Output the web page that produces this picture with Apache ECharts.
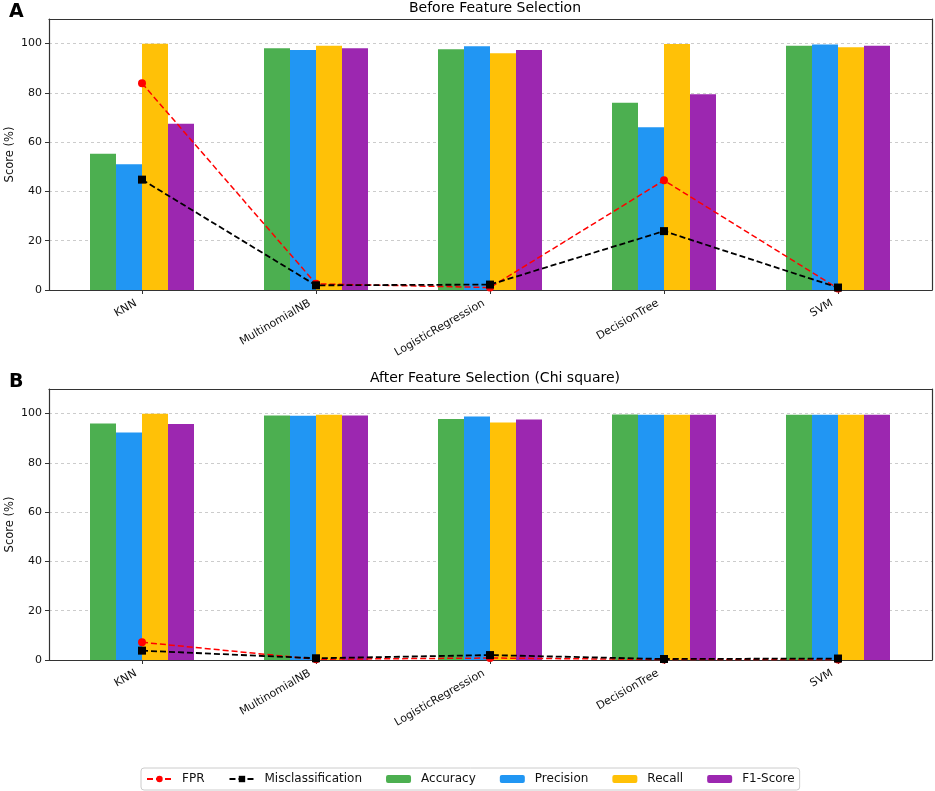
<!DOCTYPE html>
<html>
<head>
<meta charset="utf-8">
<script src="https://cdn.jsdelivr.net/npm/echarts@6/dist/echarts.min.js"></script>
<style>html,body{margin:0;padding:0;background:#fff}#c{width:935px;height:791px}</style>
</head>
<body>
<div id="c"></div>
<script>
const categories = ['KNN', 'MultinomialNB', 'LogisticRegression', 'DecisionTree', 'SVM'];
const beforeAccuracy  = [55.3, 98.1, 97.7, 76.0, 99.1];
const beforePrecision = [51.0, 97.4, 98.9, 66.1, 99.6];
const beforeRecall    = [100.0, 99.1, 96.1, 99.9, 98.5];
const beforeF1        = [67.5, 98.1, 97.4, 79.5, 99.1];
const beforeFPR       = [83.9, 2.5, 1.0, 44.5, 0.6];
const beforeMis       = [44.8, 1.9, 2.2, 23.9, 1.0];
const afterAccuracy   = [96.0, 99.2, 97.8, 99.7, 99.5];
const afterPrecision  = [92.3, 99.1, 98.8, 99.5, 99.5];
const afterRecall     = [100.0, 99.5, 96.4, 99.5, 99.5];
const afterF1         = [95.8, 99.2, 97.6, 99.5, 99.5];
const afterFPR        = [7.2, 0.3, 0.8, 0.2, 0.2];
const afterMis        = [3.8, 0.7, 2.0, 0.4, 0.6];
const panelTitles = ['Before Feature Selection', 'After Feature Selection (Chi square)'];
const panelLetters = ['A', 'B'];
const yAxisName = 'Score (%)';

const FONT = 'DejaVu Sans';
const colors = { acc: '#4CAF50', prec: '#2196F3', rec: '#FFC107', f1: '#9C27B0' };
const panelTops = [19, 389];
const plotH = 271;
const frameLine = { show: true, onZero: false, lineStyle: { color: '#333', width: 1.2 } };

const grids = [], xAxes = [], yAxes = [], series = [];
panelTops.forEach((top, p) => {
  grids.push({ left: 49, right: 3, top: top, height: plotH, outerBoundsMode: 'none', containLabel: false });
  grids.push({ left: 55, width: 870, top: top, height: plotH, outerBoundsMode: 'none', containLabel: false });
  const g0 = p * 2, g1 = p * 2 + 1;
  xAxes.push({ type: 'value', gridIndex: g0, min: 0, max: 1, position: 'bottom',
    axisLine: frameLine, axisTick: { show: false }, axisLabel: { show: false }, splitLine: { show: false } });
  xAxes.push({ type: 'value', gridIndex: g0, min: 0, max: 1, position: 'top',
    axisLine: frameLine, axisTick: { show: false }, axisLabel: { show: false }, splitLine: { show: false } });
  xAxes.push({
    type: 'category', gridIndex: g1, data: categories, boundaryGap: true,
    axisLine: { show: false },
    axisTick: { show: true, alignWithLabel: true, length: 4, lineStyle: { color: '#333' } },
    axisLabel: { rotate: 30, interval: 0, fontSize: 11, color: '#111', fontFamily: FONT, margin: 9, padding: [0, 7, 0, 0] }
  });
  yAxes.push({
    type: 'value', gridIndex: g0, min: 0, max: 110, interval: 20, position: 'left',
    name: yAxisName, nameLocation: 'middle', nameRotate: 90, nameGap: 33, nameMoveOverlap: false,
    nameTextStyle: { fontSize: 11.5, color: '#111', fontFamily: FONT },
    axisLine: frameLine,
    axisTick: { show: true, length: 4, lineStyle: { color: '#333' } },
    axisLabel: { fontSize: 11, color: '#111', fontFamily: FONT, margin: 7, showMaxLabel: false,
      formatter: v => (v > 100 ? '' : String(v)) },
    splitLine: { show: true, lineStyle: { color: '#cccccc', type: [3, 3], width: 1 } }
  });
  yAxes.push({ type: 'value', gridIndex: g0, min: 0, max: 110, position: 'right',
    axisLine: frameLine, axisTick: { show: false }, axisLabel: { show: false }, splitLine: { show: false } });
  yAxes.push({ type: 'value', gridIndex: g1, min: 0, max: 110, show: false, splitLine: { show: false } });
  const xi = p * 3 + 2, yi = p * 3 + 2;
  const d = p === 0
    ? [beforeFPR, beforeMis, beforeAccuracy, beforePrecision, beforeRecall, beforeF1]
    : [afterFPR, afterMis, afterAccuracy, afterPrecision, afterRecall, afterF1];
  const barDef = [['Accuracy', colors.acc, d[2]], ['Precision', colors.prec, d[3]], ['Recall', colors.rec, d[4]], ['F1-Score', colors.f1, d[5]]];
  barDef.forEach(([name, color, data]) => {
    series.push({ type: 'bar', name, xAxisIndex: xi, yAxisIndex: yi, data, barWidth: 26, barGap: '0%',
      itemStyle: { color }, z: 2, silent: true });
  });
  series.push({ type: 'line', name: 'FPR', xAxisIndex: xi, yAxisIndex: yi, data: d[0],
    symbol: 'circle', symbolSize: 8, itemStyle: { color: '#ff0000' },
    lineStyle: { color: '#ff0000', width: 1.5, type: [6, 3] }, z: 4, silent: true });
  series.push({ type: 'line', name: 'Misclassification', xAxisIndex: xi, yAxisIndex: yi, data: d[1],
    symbol: 'rect', symbolSize: 8, itemStyle: { color: '#000000' },
    lineStyle: { color: '#000000', width: 1.8, type: [6, 3] }, z: 5, silent: true });
});

const titles = [];
panelTops.forEach((top, p) => {
  titles.push({ text: panelLetters[p], left: 4, top: top - 21, textStyle: { fontSize: 19, fontWeight: 'bold', color: '#000', fontFamily: FONT } });
  titles.push({ text: panelTitles[p], left: 490, top: top - 23, textAlign: 'center', textStyle: { fontSize: 14, fontWeight: 'normal', color: '#000', fontFamily: FONT } });
});

const chart = echarts.init(document.getElementById('c'), null, { renderer: 'canvas' });
chart.setOption({
  animation: false,
  backgroundColor: '#fff',
  title: titles,
  grid: grids,
  xAxis: xAxes,
  yAxis: yAxes,
  legend: {
    data: ['FPR', 'Misclassification', 'Accuracy', 'Precision', 'Recall', 'F1-Score'],
    left: 141, top: 768, orient: 'horizontal',
    itemWidth: 25, itemHeight: 8, itemGap: 24,
    padding: [5, 5, 5, 5],
    borderColor: '#cccccc', borderWidth: 1, borderRadius: 3,
    textStyle: { fontSize: 12, color: '#111', fontFamily: FONT, padding: [0, 0, 0, 5] }
  },
  series
});
</script>
</body>
</html>
